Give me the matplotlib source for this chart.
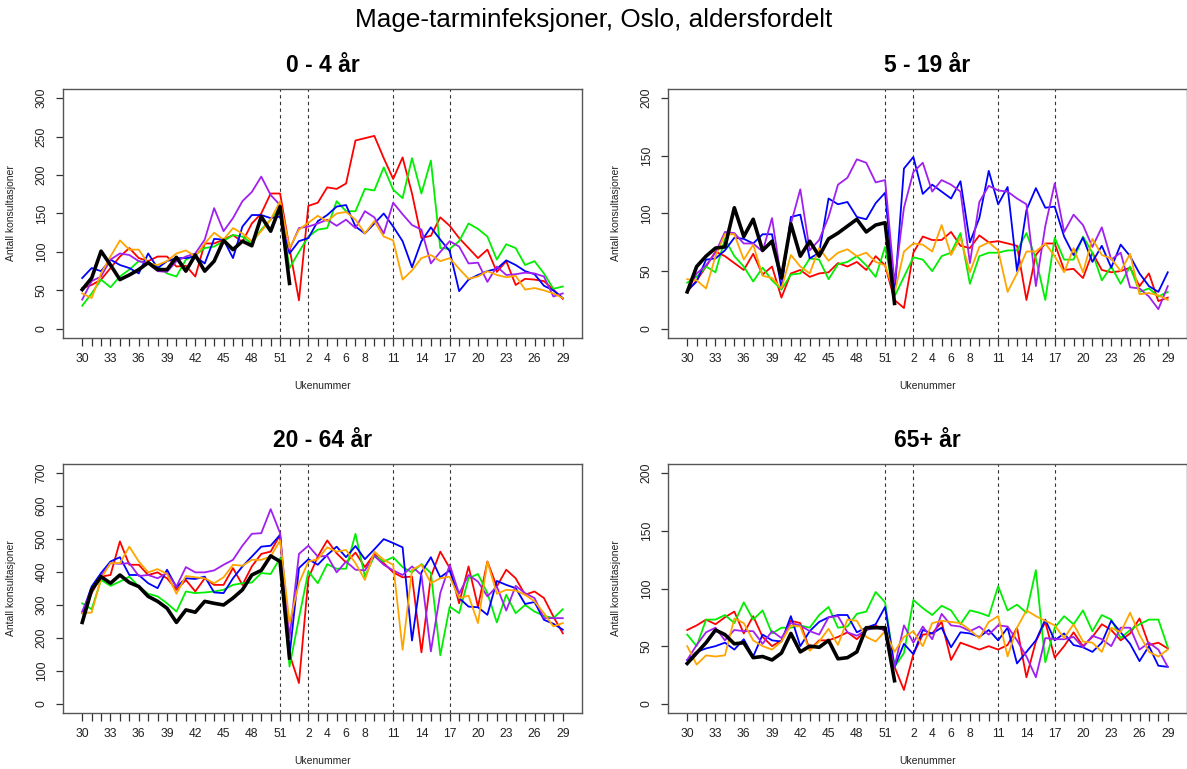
"""Mage-tarminfeksjoner, Oslo: weekly consultations by age group and season."""

import matplotlib

matplotlib.use("Agg")
import matplotlib.pyplot as plt

plt.rcParams["font.family"] = ["Liberation Sans", "DejaVu Sans"]

# Season weeks: 30..52, then 1..29
WEEKS = list(range(30, 53)) + list(range(1, 30))
TICK_WEEKS = [30, 33, 36, 39, 42, 45, 48, 51, 2, 4, 6, 8, 11, 14, 17, 20, 23, 26, 29]
DASHED_WEEKS = [51, 2, 11, 17]

PANEL_TITLES = ["0 - 4 år", "5 - 19 år", "20 - 64 år", "65+ år"]
Y_MAX = [300, 200, 700, 200]
Y_STEP = [50, 50, 100, 50]

# 0 - 4 år
a04_current = [51, 66, 101, 83, 64, 70, 77, 86, 77, 77, 93, 75, 96, 75, 88, 115, 103, 114, 108, 146, 127, 159, 59]
a04_red = [53, 57, 64, 79, 94, 105, 92, 88, 94, 94, 81, 82, 68, 111, 111, 116, 122, 113, 137, 150, 176, 176,
           105, 37, 160, 164, 184, 182, 189, 245, 248, 251, 222, 195, 223, 176, 118, 121, 145, 134, 118, 105,
           92, 103, 74, 88, 57, 65, 64, 62, 51, 39]
a04_green = [30, 46, 64, 54, 68, 77, 88, 86, 81, 72, 68, 90, 96, 105, 107, 114, 122, 120, 111, 129, 142, 159,
             79, 100, 120, 129, 131, 166, 153, 153, 182, 180, 210, 181, 170, 222, 176, 219, 105, 104, 114, 137,
             130, 120, 90, 110, 105, 83, 88, 72, 52, 55]
a04_blue = [66, 79, 75, 90, 83, 79, 72, 98, 79, 88, 92, 92, 94, 85, 117, 116, 92, 133, 148, 148, 144, 146,
            98, 114, 118, 140, 148, 159, 161, 133, 124, 137, 150, 133, 114, 80, 114, 132, 116, 101, 49, 64,
            70, 75, 78, 89, 83, 75, 71, 56, 50, 40]
a04_purple = [38, 62, 68, 90, 98, 96, 88, 85, 75, 74, 88, 94, 98, 116, 157, 127, 144, 166, 178, 198, 174, 161,
              103, 131, 133, 137, 142, 134, 142, 131, 153, 145, 124, 164, 149, 135, 129, 85, 100, 114, 107, 85,
              86, 61, 81, 70, 71, 73, 72, 68, 42, 46]
a04_orange = [46, 40, 72, 94, 115, 103, 103, 85, 83, 88, 98, 102, 94, 111, 125, 116, 131, 124, 114, 127, 142, 166,
              105, 129, 138, 147, 140, 150, 152, 142, 124, 140, 120, 115, 64, 76, 92, 96, 88, 92, 78, 65,
              68, 75, 70, 67, 69, 51, 53, 50, 46, 40]

# 5 - 19 år
a519_current = [32, 54, 63, 70, 71, 105, 80, 95, 68, 76, 44, 91, 63, 76, 63, 78, 83, 89, 95, 84, 90, 92, 22]
a519_red = [32, 42, 54, 67, 63, 57, 51, 65, 47, 54, 27, 48, 51, 45, 48, 49, 57, 54, 58, 51, 63, 55,
            25, 18, 66, 80, 77, 77, 84, 72, 70, 81, 75, 76, 74, 72, 25, 64, 74, 74, 51, 52,
            44, 66, 51, 49, 50, 53, 37, 48, 24, 27]
a519_green = [40, 45, 54, 49, 78, 63, 54, 41, 53, 42, 34, 47, 48, 61, 60, 43, 56, 58, 63, 55, 45, 71,
              28, 45, 62, 60, 50, 63, 66, 83, 39, 63, 66, 66, 68, 68, 83, 61, 25, 79, 60, 60,
              80, 66, 42, 54, 39, 54, 32, 35, 28, 32]
a519_blue = [33, 41, 60, 61, 68, 79, 78, 74, 82, 82, 35, 97, 99, 61, 66, 113, 108, 110, 97, 95, 109, 118,
             30, 139, 149, 117, 125, 119, 113, 128, 75, 96, 137, 108, 123, 50, 103, 122, 105, 106, 80, 64,
             79, 58, 72, 53, 73, 63, 48, 37, 32, 49]
a519_purple = [33, 48, 55, 66, 84, 83, 74, 74, 67, 96, 42, 91, 121, 68, 77, 97, 125, 131, 147, 144, 127, 129,
               40, 105, 136, 144, 119, 129, 125, 119, 57, 110, 124, 120, 119, 113, 108, 37, 89, 126, 84, 99,
               90, 71, 88, 60, 66, 36, 35, 28, 17, 37]
a519_orange = [43, 42, 35, 63, 82, 82, 60, 73, 46, 44, 35, 64, 54, 48, 70, 59, 66, 69, 63, 66, 58, 55,
               31, 67, 74, 73, 67, 90, 64, 79, 49, 71, 75, 68, 32, 48, 67, 67, 74, 63, 49, 70,
               49, 78, 64, 61, 50, 65, 30, 31, 29, 25]

# 20 - 64 år
a2064_current = [247, 346, 386, 366, 391, 368, 356, 326, 311, 290, 247, 285, 278, 311, 305, 300, 321, 346, 391,
                 405, 449, 432, 139]
a2064_red = [275, 336, 386, 391, 493, 422, 422, 391, 399, 381, 346, 376, 341, 381, 361, 361, 412, 361, 417, 455,
             462, 513, 150, 63, 381, 447, 496, 457, 429, 459, 415, 455, 427, 399, 384, 386, 156, 386, 462, 412,
             305, 417, 295, 432, 356, 407, 381, 331, 341, 321, 265, 214]
a2064_green = [305, 287, 376, 358, 371, 386, 356, 334, 326, 305, 280, 341, 336, 338, 341, 346, 361, 366, 368, 397,
               394, 442, 113, 260, 402, 366, 424, 410, 410, 516, 386, 449, 432, 445, 415, 399, 424, 397, 147, 295,
               275, 381, 394, 336, 247, 331, 275, 300, 280, 267, 260, 287]
a2064_blue = [275, 356, 397, 432, 445, 391, 391, 366, 351, 407, 354, 381, 379, 386, 338, 336, 381, 417, 447, 477,
              480, 513, 145, 412, 439, 422, 452, 477, 445, 479, 439, 469, 500, 488, 475, 192, 399, 445, 384, 405,
              321, 295, 293, 270, 373, 361, 351, 303, 309, 255, 243, 225]
a2064_purple = [280, 346, 388, 427, 425, 427, 388, 391, 381, 397, 356, 415, 399, 399, 405, 422, 437, 480, 516, 518,
                591, 518, 200, 455, 480, 447, 449, 399, 432, 407, 405, 449, 422, 405, 391, 417, 391, 159, 336, 422,
                334, 391, 371, 326, 356, 283, 358, 336, 321, 260, 260, 260]
a2064_orange = [275, 277, 381, 427, 427, 477, 432, 399, 409, 394, 334, 388, 384, 381, 366, 384, 422, 419, 437, 437,
                447, 496, 245, 366, 432, 439, 475, 462, 467, 427, 376, 462, 437, 422, 164, 407, 422, 366, 381, 386,
                321, 328, 245, 432, 334, 346, 344, 331, 311, 275, 235, 245]

# 65+ år
a65_current = [35, 44, 53, 64, 60, 52, 53, 40, 41, 38, 44, 61, 45, 50, 49, 55, 39, 40, 45, 66, 66, 66, 20]
a65_red = [64, 68, 73, 69, 75, 80, 61, 76, 58, 50, 55, 72, 70, 47, 55, 55, 58, 62, 56, 64, 68, 63,
           32, 12, 43, 60, 61, 71, 38, 53, 50, 47, 50, 47, 51, 66, 23, 54, 71, 40, 50, 62,
           50, 58, 69, 64, 55, 61, 74, 51, 53, 48]
a65_green = [60, 50, 73, 73, 77, 70, 88, 73, 81, 61, 66, 66, 68, 66, 77, 84, 66, 67, 78, 80, 97, 88,
             32, 44, 90, 83, 77, 85, 81, 69, 81, 79, 76, 102, 81, 86, 79, 116, 36, 66, 76, 69,
             81, 63, 77, 73, 57, 64, 69, 73, 73, 49]
a65_blue = [38, 45, 48, 50, 53, 47, 56, 41, 60, 55, 54, 76, 50, 63, 71, 75, 77, 77, 62, 66, 69, 84,
            32, 52, 43, 64, 61, 66, 49, 62, 61, 58, 64, 55, 66, 35, 45, 55, 73, 55, 61, 51,
            49, 45, 53, 72, 62, 52, 37, 50, 33, 32]
a65_purple = [38, 51, 62, 66, 55, 64, 63, 63, 52, 63, 57, 70, 68, 63, 60, 75, 76, 62, 59, 64, 66, 64,
              32, 68, 53, 67, 56, 78, 68, 67, 63, 67, 60, 68, 67, 55, 41, 23, 57, 56, 56, 58,
              49, 59, 56, 50, 66, 66, 47, 53, 47, 32]
a65_orange = [50, 34, 42, 41, 42, 74, 70, 55, 50, 47, 54, 68, 67, 46, 54, 65, 51, 73, 72, 58, 54, 63,
              45, 58, 63, 50, 70, 72, 71, 70, 64, 57, 71, 76, 41, 66, 81, 76, 72, 68, 57, 69,
              54, 53, 45, 66, 62, 79, 60, 45, 41, 47]

SEASON_COLORS = ["#FF0000", "#00EE00", "#0000FF", "#A020F0", "#FFA500"]

PANELS = [
    (a04_current, [a04_red, a04_green, a04_blue, a04_purple, a04_orange]),
    (a519_current, [a519_red, a519_green, a519_blue, a519_purple, a519_orange]),
    (a2064_current, [a2064_red, a2064_green, a2064_blue, a2064_purple, a2064_orange]),
    (a65_current, [a65_red, a65_green, a65_blue, a65_purple, a65_orange]),
]

# axes rectangles in pixels: left, top, right, bottom
AXES_PX = [(63, 89, 582, 338), (668, 89, 1187, 338), (63, 464, 582, 713), (668, 464, 1187, 713)]
FIG_W, FIG_H = 1187, 769


def _draw_panel(ax, title, current, seasons, y_max, y_step):
    """One age group: old seasons in colour, current season in thick black."""
    x_all = list(range(len(WEEKS)))
    n = len(WEEKS) - 1
    for values, color in zip(seasons, SEASON_COLORS):
        ax.plot(x_all, values, color=color, linewidth=1.3, zorder=2)
    ax.plot(x_all[: len(current)], current, color="black", linewidth=2.6, zorder=3)

    for week in DASHED_WEEKS:
        ax.axvline(WEEKS.index(week), color="#333333", linestyle=(0, (3, 3)), linewidth=0.8, zorder=1)

    ax.set_xlim(-0.04 * n, n * 1.04)
    ax.set_ylim(-0.04 * y_max, y_max * 1.04)

    ax.set_xticks(x_all, minor=True)
    ax.set_xticks([WEEKS.index(w) for w in TICK_WEEKS])
    ax.set_xticklabels([str(w) for w in TICK_WEEKS])
    ax.set_yticks(range(0, y_max + 1, y_step))
    ax.tick_params(axis="x", which="both", length=6, width=0.9, color="#333333",
                   labelsize=8.7, pad=5, labelcolor="#222222")
    ax.tick_params(axis="y", length=5, width=0.9, color="#333333",
                   labelsize=8.7, pad=6, labelcolor="#222222")
    for label in ax.get_yticklabels():
        label.set_rotation(90)
        label.set_va("center")

    for spine in ax.spines.values():
        spine.set_color("#555555")
        spine.set_linewidth(1.0)

    ax.set_title(title, fontsize=16.5, fontweight="bold", pad=12)
    ax.set_xlabel("Ukenummer", fontsize=7.5, color="#222222")
    ax.set_ylabel("Antall konsultasjoner", fontsize=7.5, color="#222222")
    ax.xaxis.set_label_coords(0.5, -0.172)
    ax.yaxis.set_label_coords(-0.09, 0.5)


def main():
    figure = plt.figure(figsize=(FIG_W / 100, FIG_H / 100), dpi=100)
    for (current, seasons), title, y_max, y_step, (l, t, r, b) in zip(
        PANELS, PANEL_TITLES, Y_MAX, Y_STEP, AXES_PX
    ):
        ax = figure.add_axes([l / FIG_W, 1 - b / FIG_H, (r - l) / FIG_W, (b - t) / FIG_H])
        _draw_panel(ax, title, current, seasons, y_max, y_step)

    figure.text(0.5, 1 - 20 / FIG_H, "Mage-tarminfeksjoner, Oslo, aldersfordelt",
                ha="center", va="center", fontsize=18.8)
    figure.savefig("out.png", dpi=100)


if __name__ == "__main__":
    main()
